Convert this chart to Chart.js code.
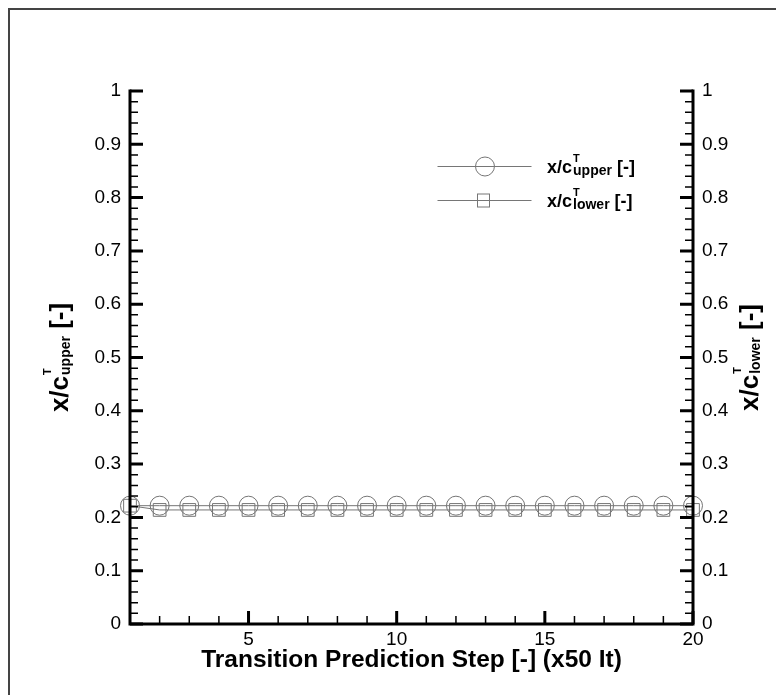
<!DOCTYPE html>
<html>
<head>
<meta charset="utf-8">
<script src="https://cdn.jsdelivr.net/npm/chart.js@4.4.1/dist/chart.umd.min.js"></script>
<style>
  html, body { margin: 0; padding: 0; background: #fff; }
  #wrap { position: relative; width: 776px; height: 695px; }
</style>
</head>
<body>
<div id="wrap"><canvas id="myChart"></canvas></div>
<script>
'use strict'

// transition prediction steps (x50 iterations)
let steps = [1, 2, 3, 4, 5, 6, 7, 8, 9, 10, 11, 12, 13, 14, 15, 16, 17, 18, 19, 20]
let upperVals = [0.222, 0.222, 0.222, 0.222, 0.222, 0.222, 0.222, 0.222, 0.222, 0.222,
                 0.222, 0.222, 0.222, 0.222, 0.222, 0.222, 0.222, 0.222, 0.222, 0.222]
let lowerVals = [0.222, 0.214, 0.214, 0.214, 0.214, 0.214, 0.214, 0.214, 0.214, 0.214,
                 0.214, 0.214, 0.214, 0.214, 0.214, 0.214, 0.214, 0.214, 0.214, 0.214]
let xMajorTicks = [5, 10, 15, 20]
let xMinorTicks = [2, 3, 4, 6, 7, 8, 9, 11, 12, 13, 14, 16, 17, 18, 19]
let yMajorTicks = [0, 0.1, 0.2, 0.3, 0.4, 0.5, 0.6, 0.7, 0.8, 0.9, 1]
let yMinorStep = 0.02

let xTitle = 'Transition Prediction Step [-] (x50 It)'
let upperLabel = [['x/c', 'main'], ['T', 'sup'], ['upper', 'sub'], [' [-]', 'main']]
let lowerLabel = [['x/c', 'main'], ['T', 'sup'], ['lower', 'sub'], [' [-]', 'main']]

const FONT = '"Liberation Sans", Arial, Helvetica, sans-serif'
const GREY = '#767676'

function toPoints(xs, ys) {
    return xs.map((x, i) => ({ x: x, y: ys[i] }))
}

function fmt(v) {
    return String(Math.round(v * 100) / 100)
}

// draws x/c^T_sub [-] style text, returns width
function drawRich(ctx, parts, x, y, sizes, draw) {
    let cx = x
    let subX = x
    for (let p of parts) {
        let kind = p[1]
        let s = sizes[kind]
        ctx.font = 'bold ' + s.size + 'px ' + FONT
        let w = ctx.measureText(p[0]).width
        if (kind === 'sup') {
            subX = cx + s.gap
            if (draw) ctx.fillText(p[0], subX, y + s.dy)
            continue
        }
        if (kind === 'sub') {
            if (draw) ctx.fillText(p[0], subX, y + s.dy)
            cx = subX + w
            continue
        }
        if (draw) ctx.fillText(p[0], cx, y + s.dy)
        cx += w
    }
    return cx - x
}

let legendSizes = { main: { size: 18, dy: 0 }, sup: { size: 11, dy: -11, gap: 1 }, sub: { size: 14, dy: 2 } }
let titleSizes = { main: { size: 26, dy: 0 }, sup: { size: 11, dy: -17, gap: 1 }, sub: { size: 14, dy: 2 } }

const decorPlugin = {
    id: 'decor',
    beforeDraw(chart) {
        let ctx = chart.ctx
        ctx.save()
        ctx.fillStyle = '#fff'
        ctx.fillRect(0, 0, chart.width, chart.height)
        ctx.strokeStyle = '#444'
        ctx.lineWidth = 2
        ctx.beginPath()
        ctx.moveTo(9, chart.height)
        ctx.lineTo(9, 9)
        ctx.lineTo(chart.width, 9)
        ctx.stroke()
        ctx.restore()
    },
    afterDatasetsDraw(chart) {
        let ctx = chart.ctx
        let xs = chart.scales.x
        let yl = chart.scales.y
        let yr = chart.scales.y2
        let left = xs.getPixelForValue(1)
        let right = xs.getPixelForValue(20)
        let bottom = yl.getPixelForValue(0)
        let top = yl.getPixelForValue(1)
        ctx.save()
        ctx.strokeStyle = '#000'
        ctx.lineCap = 'butt'

        // minor ticks
        ctx.lineWidth = 1.5
        ctx.beginPath()
        for (let i = 1; i < 50; i++) {
            if (i % 5 === 0) continue
            let r = i * yMinorStep
            let py = yl.getPixelForValue(r)
            ctx.moveTo(left, py); ctx.lineTo(left + 8, py)
            let pr = yr.getPixelForValue(r)
            ctx.moveTo(right, pr); ctx.lineTo(right - 8, pr)
        }
        for (let v of xMinorTicks) {
            let px = xs.getPixelForValue(v)
            ctx.moveTo(px, bottom); ctx.lineTo(px, bottom - 8)
        }
        ctx.stroke()

        // major ticks
        ctx.lineWidth = 3
        ctx.beginPath()
        for (let v of yMajorTicks) {
            let py = yl.getPixelForValue(v)
            ctx.moveTo(left, py); ctx.lineTo(left + 13, py)
            let pr = yr.getPixelForValue(v)
            ctx.moveTo(right, pr); ctx.lineTo(right - 13, pr)
        }
        for (let v of xMajorTicks) {
            let px = xs.getPixelForValue(v)
            ctx.moveTo(px, bottom); ctx.lineTo(px, bottom - 13)
        }
        ctx.stroke()

        // axis lines
        ctx.lineWidth = 3
        ctx.lineCap = 'square'
        ctx.beginPath()
        ctx.moveTo(left, top); ctx.lineTo(left, bottom); ctx.lineTo(right, bottom); ctx.lineTo(right, top)
        ctx.stroke()

        // legend
        ctx.strokeStyle = GREY
        ctx.lineWidth = 1
        ctx.beginPath()
        ctx.moveTo(438, 166.5); ctx.lineTo(531, 166.5)
        ctx.moveTo(438, 200.5); ctx.lineTo(531, 200.5)
        ctx.stroke()
        ctx.beginPath()
        ctx.arc(485, 166.5, 9.5, 0, Math.PI * 2)
        ctx.stroke()
        ctx.strokeRect(477.5, 194, 12, 13)

        ctx.fillStyle = '#000'
        ctx.textBaseline = 'alphabetic'
        ctx.textAlign = 'left'
        drawRich(ctx, upperLabel, 547, 173, legendSizes, true)
        drawRich(ctx, lowerLabel, 547, 207, legendSizes, true)

        // y axis titles (rotated)
        let midY = (top + bottom) / 2
        let w1 = drawRich(ctx, upperLabel, 0, 0, titleSizes, false)
        ctx.save()
        ctx.translate(68, midY)
        ctx.rotate(-Math.PI / 2)
        drawRich(ctx, upperLabel, -w1 / 2, 0, titleSizes, true)
        ctx.restore()
        let w2 = drawRich(ctx, lowerLabel, 0, 0, titleSizes, false)
        ctx.save()
        ctx.translate(758, midY)
        ctx.rotate(-Math.PI / 2)
        drawRich(ctx, lowerLabel, -w2 / 2, 0, titleSizes, true)
        ctx.restore()

        ctx.restore()
    }
}

let ctx = document.getElementById('myChart')
const myChart = new Chart(ctx, {
    type: 'line',
    data: {
        datasets: [{
            label: 'upper',
            data: toPoints(steps, upperVals),
            yAxisID: 'y',
            borderColor: GREY,
            borderWidth: 1,
            pointStyle: 'circle',
            pointRadius: 9.5,
            pointBorderColor: GREY,
            pointBorderWidth: 1,
            pointBackgroundColor: 'rgba(0,0,0,0)',
            tension: 0,
            clip: false
        }, {
            label: 'lower',
            data: toPoints(steps, lowerVals),
            yAxisID: 'y2',
            borderColor: GREY,
            borderWidth: 1,
            pointStyle: 'rect',
            pointRadius: 9,
            pointBorderColor: GREY,
            pointBorderWidth: 1,
            pointBackgroundColor: 'rgba(0,0,0,0)',
            tension: 0,
            clip: false
        }]
    },
    options: {
        responsive: true,
        maintainAspectRatio: false,
        animation: false,
        events: [],
        layout: { padding: { top: 91, left: 0, right: 0, bottom: 0 } },
        plugins: {
            legend: { display: false },
            tooltip: { enabled: false }
        },
        scales: {
            x: {
                type: 'linear',
                position: 'bottom',
                min: 1,
                max: 20,
                grid: { display: false, drawTicks: false },
                border: { display: false },
                afterBuildTicks: (scale) => { scale.ticks = xMajorTicks.map(v => ({ value: v })) },
                afterFit: (scale) => { scale.height = 71 },
                ticks: {
                    color: '#000',
                    padding: 4,
                    maxRotation: 0,
                    autoSkip: false,
                    callback: (v) => fmt(v),
                    font: { family: FONT, size: 19 }
                },
                title: {
                    display: true,
                    text: xTitle,
                    color: '#000',
                    padding: { top: 0, bottom: 20 },
                    font: { family: FONT, size: 24.5, weight: 'bold', lineHeight: 1.2 }
                }
            },
            y: {
                type: 'linear',
                position: 'left',
                min: 0,
                max: 1,
                grid: { display: false, drawTicks: false },
                border: { display: false },
                afterBuildTicks: (scale) => { scale.ticks = yMajorTicks.map(v => ({ value: v })) },
                afterFit: (scale) => { scale.width = 130 },
                ticks: {
                    color: '#000',
                    padding: 9,
                    callback: (v) => fmt(v),
                    font: { family: FONT, size: 19 }
                }
            },
            y2: {
                type: 'linear',
                position: 'right',
                min: 0,
                max: 1,
                grid: { display: false, drawTicks: false },
                border: { display: false },
                afterBuildTicks: (scale) => { scale.ticks = yMajorTicks.map(v => ({ value: v })) },
                afterFit: (scale) => { scale.width = 83 },
                ticks: {
                    color: '#000',
                    padding: 9,
                    callback: (v) => fmt(v),
                    font: { family: FONT, size: 19 }
                }
            }
        }
    },
    plugins: [decorPlugin]
})
</script>
</body>
</html>
